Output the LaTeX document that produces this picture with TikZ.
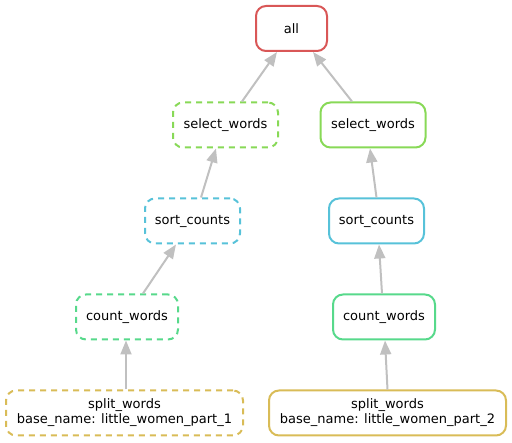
\documentclass[tikz,border=0pt]{standalone}
\usepackage{fontspec}
\setmainfont{DejaVu Sans}
\usetikzlibrary{arrows.meta}
\usepackage{xcolor}

\definecolor{allred}{HTML}{D95757}
\definecolor{selectgreen}{HTML}{88D957}
\definecolor{sortcyan}{HTML}{57C2D9}
\definecolor{countgreen}{HTML}{57D98B}
\definecolor{splitgold}{HTML}{D9BC57}
\definecolor{edgegray}{HTML}{C0C0C0}

\begin{document}
\begin{tikzpicture}[x=1pt,y=-1pt]
    \tikzstyle{rule} = [rectangle, draw, fill=white, rounded corners=10pt,
               line width=2pt, minimum height=45pt, align=center,
               font=\fontsize{13}{15}\selectfont]
    \tikzstyle{pending} = [dash pattern=on 6pt off 5pt]
    \tikzstyle{line} = [draw, edgegray, line width=2pt,
               -{Triangle[length=14pt,width=11pt]}]

    \useasboundingbox (0,0) rectangle (512,443);

    % Define rules
    \node[rule, draw=allred, minimum width=71pt] (all) at (291.5,28.5) {all};

    \node[rule, pending, draw=selectgreen, minimum width=105pt] (select1) at (225.5,125) {select\_words};
    \node[rule, draw=selectgreen, minimum width=105pt] (select2) at (373,125) {select\_words};

    \node[rule, pending, draw=sortcyan, minimum width=95pt] (sort1) at (192.5,221) {sort\_counts};
    \node[rule, draw=sortcyan, minimum width=95pt] (sort2) at (376.5,221) {sort\_counts};

    \node[rule, pending, draw=countgreen, minimum width=102pt] (count1) at (127,317) {count\_words};
    \node[rule, draw=countgreen, minimum width=102pt] (count2) at (384,317) {count\_words};

    \node[rule, pending, draw=splitgold, minimum width=237pt] (split1) at (124.5,413)
      {split\_words\\base\_name: little\_women\_part\_1};
    \node[rule, draw=splitgold, minimum width=237pt] (split2) at (387.5,413)
      {split\_words\\base\_name: little\_women\_part\_2};

    % Dependencies
    \path [line] ([xshift=16.5pt]select1.north) -- ([xshift=-14.5pt]all.south);
    \path [line] ([xshift=-21pt]select2.north) -- ([xshift=21.5pt]all.south);

    \path [line] ([xshift=8.5pt]sort1.north) -- ([xshift=-9.5pt]select1.south);
    \path [line] (sort2.north) -- ([xshift=-3pt]select2.south);

    \path [line] ([xshift=16pt]count1.north) -- ([xshift=-16.5pt]sort1.south);
    \path [line] ([xshift=-2pt]count2.north) -- ([xshift=2.5pt]sort2.south);

    \path [line] ([xshift=1.5pt]split1.north) -- ([xshift=-1pt]count1.south);
    \path [line] (split2.north) -- ([xshift=1pt]count2.south);

  \end{tikzpicture}
\end{document}
